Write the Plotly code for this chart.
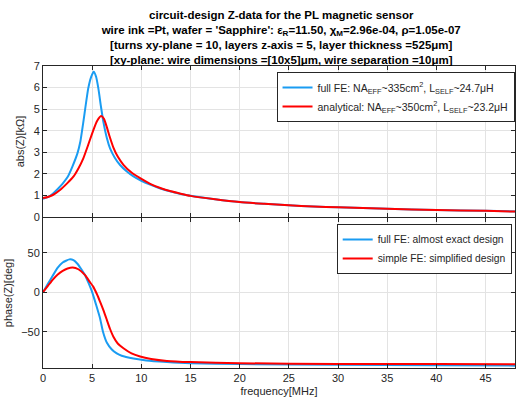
import plotly.graph_objects as go

# ---------------- data ----------------
freq_abs_full = [0, 0.5, 1.0, 1.5, 2.0, 2.5, 3.0, 3.5, 3.8, 4.1, 4.6, 4.9, 5.16, 5.4, 5.63, 5.9,
                 6.14, 6.5, 6.82, 7.3, 7.84, 8.5, 9.2, 10.0, 10.9, 12, 13, 14, 15, 17.5, 20,
                 22.5, 25, 27.5, 30, 35, 40, 45, 48]
abs_full = [0.85, 0.92, 1.08, 1.3, 1.55, 1.85, 2.35, 2.95, 3.5, 4.4, 5.96, 6.5, 6.73, 6.5, 5.96, 5.1,
            4.41, 3.65, 3.18, 2.75, 2.41, 2.12, 1.88, 1.68, 1.5, 1.31, 1.18, 1.07, 0.98, 0.82, 0.69,
            0.61, 0.54, 0.49, 0.45, 0.38, 0.32, 0.29, 0.26]

freq_abs_anal = [0, 0.5, 1.0, 1.73, 2.5, 3.09, 3.6, 4.1, 4.6, 5.12, 5.5, 5.9, 6.2, 6.48, 6.8,
                 7.16, 7.6, 8.18, 9.0, 9.88, 10.9, 12, 13, 14, 15, 17.5, 20, 22.5, 25, 27.5,
                 30, 35, 40, 45, 48]
abs_anal = [0.88, 0.93, 1.02, 1.25, 1.58, 1.87, 2.25, 2.72, 3.35, 4.03, 4.45, 4.68, 4.55, 4.18, 3.7,
            3.22, 2.8, 2.42, 2.06, 1.8, 1.54, 1.33, 1.19, 1.08, 0.98, 0.82, 0.69, 0.61, 0.54, 0.49,
            0.45, 0.38, 0.32, 0.29, 0.25]

freq_ph_full = [0, 0.5, 1.0, 1.5, 2.0, 2.68, 3.1, 3.5, 3.9, 4.28, 4.65, 5.0, 5.4, 5.8, 6.1, 6.5,
                7.0, 7.5, 8.0, 9.2, 10.5, 12.6, 15, 20, 30, 40, 48]
ph_full = [0, 10.5, 21, 31, 37.5, 41.5, 40.5, 36, 29, 21.5, 11, 0, -16, -33, -50, -64,
           -72.5, -77.5, -80.5, -84, -86.5, -88.5, -90, -91, -92, -92.5, -93]

freq_ph_simple = [0, 0.5, 1.0, 1.5, 2.0, 2.5, 3.02, 3.6, 4.28, 4.7, 5.12, 5.5, 5.8, 6.15, 6.49,
                  6.8, 7.16, 7.6, 8.18, 9.0, 9.88, 11, 12.6, 15, 20, 30, 40, 48]
ph_simple = [0, 8, 16, 22.5, 27, 30, 31.3, 29, 21.5, 14, 6.7, -3, -12, -23, -35,
             -46, -56.5, -65, -71, -77.5, -81.5, -84.5, -87, -88.5, -90, -90.8, -91, -91.2]

x_ticks = [0, 5, 10, 15, 20, 25, 30, 35, 40, 45]
abs_ticks = [0, 1, 2, 3, 4, 5, 6, 7]
ph_ticks = [-50, 0, 50]

title_lines = [
    "circuit-design Z-data for the PL magnetic sensor",
    "wire ink =Pt, wafer = 'Sapphire': ε<sub>R</sub>=11.50, χ<sub>M</sub>=2.96e-04, ρ=1.05e-07",
    "[turns xy-plane = 10, layers z-axis = 5, layer thickness =525μm]",
    "[xy-plane: wire dimensions =[10x5]μm, wire separation =10μm]",
]

BLUE = "#1a9cf2"
RED = "#ff0000"
AX = "#262626"
GRID = "#e3e3e3"
FONT = "Liberation Sans, Arial, sans-serif"

fig = go.Figure()

line_kw = dict(width=2, shape="spline", smoothing=0.5)
fig.add_trace(go.Scatter(x=freq_abs_full, y=abs_full, mode="lines", line=dict(color=BLUE, **line_kw),
                         name="full FE: NA<sub>EFF</sub>~335cm<sup>2</sup>, L<sub>SELF</sub>~24.7μH",
                         xaxis="x", yaxis="y", legend="legend"))
fig.add_trace(go.Scatter(x=freq_abs_anal, y=abs_anal, mode="lines", line=dict(color=RED, **line_kw),
                         name="analytical: NA<sub>EFF</sub>~350cm<sup>2</sup>, L<sub>SELF</sub>~23.2μH",
                         xaxis="x", yaxis="y", legend="legend"))
fig.add_trace(go.Scatter(x=freq_ph_full, y=ph_full, mode="lines", line=dict(color=BLUE, **line_kw),
                         name="full FE: almost exact design", xaxis="x2", yaxis="y2", legend="legend2"))
fig.add_trace(go.Scatter(x=freq_ph_simple, y=ph_simple, mode="lines", line=dict(color=RED, **line_kw),
                         name="simple FE: simplified design", xaxis="x2", yaxis="y2", legend="legend2"))

axis_common = dict(showline=True, linecolor=AX, linewidth=1, mirror="ticks", ticks="inside", ticklen=4,
                   tickcolor=AX, showgrid=True, gridcolor=GRID, gridwidth=1, zeroline=False,
                   tickfont=dict(family=FONT, size=11, color=AX), automargin=False)

fig.update_layout(
    width=516, height=407,
    margin=dict(l=43, r=1, t=66, b=39),
    paper_bgcolor="white", plot_bgcolor="white",
    font=dict(family=FONT, size=11, color=AX),
    hovermode=False,
    title=dict(text="<b>" + "<br>".join(title_lines) + "</b>", x=0.545, xanchor="center",
               y=1 - 19 / 407, yanchor="top", yref="container",
               font=dict(family=FONT, size=11.5, color="black"), automargin=False),
    xaxis=dict(axis_common, domain=[0, 1], range=[0, 48], tickvals=x_ticks, showticklabels=False, anchor="y"),
    yaxis=dict(axis_common, domain=[0.5, 1], range=[0, 7], tickvals=abs_ticks, anchor="x",
               title=dict(text="abs(Z)[kΩ]", font=dict(family=FONT, size=11, color=AX), standoff=6)),
    xaxis2=dict(axis_common, domain=[0, 1], range=[0, 48], tickvals=x_ticks, anchor="y2",
                title=dict(text="frequency[MHz]", font=dict(family=FONT, size=11, color=AX), standoff=4)),
    yaxis2=dict(axis_common, domain=[0, 0.497], range=[-96, 94], tickvals=ph_ticks, anchor="x2",
                title=dict(text="phase(Z)[deg]", font=dict(family=FONT, size=11, color=AX), standoff=6)),
    legend=dict(x=0.999, y=0.98, xanchor="right", yanchor="top", bgcolor="white", bordercolor=AX, borderwidth=1,
                font=dict(family=FONT, size=10.5, color=AX), tracegroupgap=0, itemwidth=30),
    legend2=dict(x=0.993, y=0.477, xanchor="right", yanchor="top", bgcolor="white", bordercolor=AX, borderwidth=1,
                 font=dict(family=FONT, size=10.3, color=AX), tracegroupgap=0, itemwidth=30),
    showlegend=True,
)

fig.write_html("out.html", config={"displayModeBar": False},
               post_script="document.body.style.margin='0';")
